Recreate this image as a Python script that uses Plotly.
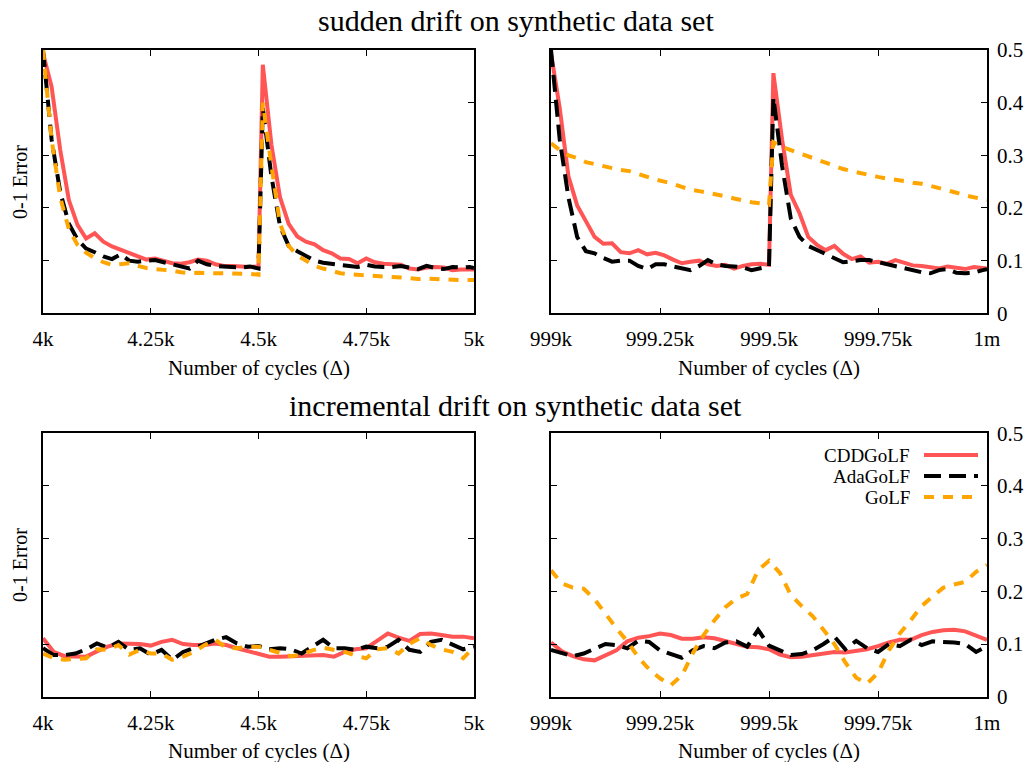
import plotly.graph_objects as go

# ---------------- data ----------------
series_names = ["CDDGoLF", "AdaGoLF", "GoLF"]
x_tick_left = [4000, 4250, 4500, 4750, 5000]
x_ticktext_left = ["4k", "4.25k", "4.5k", "4.75k", "5k"]
x_tick_right = [999000, 999250, 999500, 999750, 1000000]
x_ticktext_right = ["999k", "999.25k", "999.5k", "999.75k", "1m"]
y_ticks = [0, 0.1, 0.2, 0.3, 0.4, 0.5]
y_ticktext = ["0", "0.1", "0.2", "0.3", "0.4", "0.5"]

# sudden drift, cycles 4k-5k
sud_l_x = [4000, 4020, 4040, 4060, 4080, 4100, 4120, 4140, 4160, 4180, 4200, 4220, 4240,
           4260, 4280, 4300, 4320, 4340, 4360, 4380, 4400, 4420, 4440, 4460, 4480, 4500,
           4510, 4530, 4550, 4570, 4590, 4610, 4630, 4650, 4670, 4690, 4710, 4730, 4750,
           4770, 4790, 4810, 4830, 4850, 4870, 4890, 4910, 4930, 4950, 4970, 4990, 5000]
sud_l_cdd = [0.494, 0.43, 0.31, 0.215, 0.168, 0.142, 0.152, 0.136, 0.127, 0.121, 0.116, 0.108, 0.102,
             0.104, 0.1, 0.095, 0.094, 0.097, 0.102, 0.1, 0.093, 0.09, 0.09, 0.089, 0.088, 0.089,
             0.472, 0.32, 0.22, 0.17, 0.146, 0.136, 0.131, 0.12, 0.114, 0.104, 0.103, 0.095, 0.104,
             0.097, 0.094, 0.093, 0.092, 0.085, 0.083, 0.087, 0.088, 0.087, 0.082, 0.083, 0.084, 0.083]
sud_l_ada = [0.5, 0.33, 0.23, 0.17, 0.14, 0.123, 0.116, 0.108, 0.103, 0.112, 0.1, 0.098, 0.1,
             0.101, 0.097, 0.093, 0.089, 0.085, 0.1, 0.093, 0.09, 0.089, 0.088, 0.087, 0.089, 0.085,
             0.39, 0.26, 0.165, 0.128, 0.118, 0.108, 0.1, 0.096, 0.094, 0.092, 0.089, 0.088, 0.092,
             0.089, 0.088, 0.088, 0.09, 0.087, 0.084, 0.09, 0.086, 0.084, 0.088, 0.087, 0.088, 0.086]
sud_l_golf = [0.5, 0.33, 0.22, 0.16, 0.13, 0.115, 0.105, 0.097, 0.092, 0.093, 0.095, 0.09, 0.086,
              0.084, 0.083, 0.081, 0.078, 0.076, 0.077, 0.076, 0.076, 0.076, 0.076, 0.076, 0.075, 0.073,
              0.40, 0.28, 0.17, 0.128, 0.11, 0.1, 0.09, 0.085, 0.08, 0.076, 0.074, 0.073, 0.072,
              0.071, 0.07, 0.07, 0.068, 0.067, 0.065, 0.066, 0.065, 0.064, 0.064, 0.063, 0.063, 0.063]

# sudden drift, cycles 999k-1m
sud_r_x = [999000, 999020, 999040, 999060, 999080, 999100, 999120, 999140, 999160, 999180,
           999200, 999220, 999240, 999260, 999280, 999300, 999320, 999340, 999360, 999380,
           999400, 999420, 999440, 999460, 999480, 999500, 999510, 999530, 999550, 999570,
           999590, 999610, 999630, 999650, 999670, 999690, 999710, 999730, 999750, 999770,
           999790, 999810, 999830, 999850, 999870, 999890, 999910, 999930, 999950, 999970,
           999990, 1000000]
sud_r_cdd = [0.494, 0.39, 0.26, 0.205, 0.175, 0.145, 0.132, 0.133, 0.116, 0.114,
             0.12, 0.112, 0.115, 0.11, 0.102, 0.095, 0.098, 0.1, 0.093, 0.09,
             0.092, 0.085, 0.09, 0.093, 0.094, 0.092, 0.456, 0.33, 0.225, 0.19,
             0.145, 0.13, 0.12, 0.128, 0.113, 0.103, 0.108, 0.096, 0.098, 0.094,
             0.101, 0.095, 0.091, 0.09, 0.088, 0.085, 0.089, 0.087, 0.084, 0.088,
             0.087, 0.085]
sud_r_ada = [0.5, 0.33, 0.22, 0.145, 0.118, 0.114, 0.105, 0.098, 0.1, 0.1,
             0.09, 0.084, 0.093, 0.093, 0.089, 0.086, 0.082, 0.09, 0.101, 0.093,
             0.09, 0.089, 0.087, 0.082, 0.086, 0.089, 0.41, 0.28, 0.18, 0.145,
             0.128, 0.12, 0.112, 0.104, 0.097, 0.099, 0.101, 0.101, 0.097, 0.093,
             0.089, 0.085, 0.081, 0.078, 0.076, 0.082, 0.084, 0.077, 0.076, 0.077,
             0.082, 0.084]
sud_r_golf = [0.323, 0.31, 0.3, 0.295, 0.287, 0.283, 0.279, 0.275, 0.272, 0.27,
              0.264, 0.258, 0.254, 0.25, 0.246, 0.24, 0.235, 0.232, 0.229, 0.226,
              0.222, 0.218, 0.214, 0.211, 0.209, 0.206, 0.325, 0.316, 0.31, 0.304,
              0.297, 0.29, 0.284, 0.278, 0.274, 0.27, 0.266, 0.262, 0.259, 0.256,
              0.254, 0.251, 0.248, 0.246, 0.242, 0.238, 0.234, 0.229, 0.224, 0.22,
              0.216, 0.215]

# incremental drift, cycles 4k-5k
inc_l_x = [4000, 4025, 4050, 4075, 4100, 4125, 4150, 4175, 4200, 4225, 4250, 4275, 4300, 4325,
           4350, 4375, 4400, 4425, 4450, 4475, 4500, 4525, 4550, 4575, 4600, 4625, 4650, 4675,
           4700, 4725, 4750, 4775, 4800, 4825, 4850, 4875, 4900, 4925, 4950, 4975, 5000]
inc_l_cdd = [0.111, 0.085, 0.077, 0.076, 0.076, 0.086, 0.095, 0.101, 0.101, 0.1, 0.097, 0.104, 0.108, 0.1,
             0.098, 0.098, 0.101, 0.098, 0.092, 0.087, 0.082, 0.076, 0.076, 0.077, 0.078, 0.079, 0.079, 0.076,
             0.085, 0.09, 0.092, 0.106, 0.12, 0.112, 0.106, 0.119, 0.12, 0.117, 0.114, 0.114, 0.111]
inc_l_ada = [0.092, 0.079, 0.079, 0.082, 0.09, 0.101, 0.093, 0.104, 0.089, 0.092, 0.08, 0.089, 0.07, 0.085,
             0.092, 0.101, 0.108, 0.113, 0.101, 0.095, 0.096, 0.09, 0.092, 0.09, 0.082, 0.095, 0.108, 0.092,
             0.092, 0.089, 0.095, 0.092, 0.095, 0.108, 0.089, 0.085, 0.104, 0.108, 0.098, 0.09, 0.095]
inc_l_golf = [0.082, 0.073, 0.07, 0.072, 0.073, 0.09, 0.089, 0.098, 0.08, 0.089, 0.082, 0.082, 0.07, 0.076,
              0.085, 0.098, 0.108, 0.093, 0.092, 0.095, 0.095, 0.089, 0.083, 0.077, 0.08, 0.088, 0.093, 0.089,
              0.085, 0.078, 0.073, 0.09, 0.092, 0.082, 0.1, 0.111, 0.098, 0.09, 0.085, 0.073, 0.095]

# incremental drift, cycles 999k-1m
inc_r_x = [999000, 999025, 999050, 999075, 999100, 999125, 999150, 999175, 999200, 999225,
           999250, 999275, 999300, 999325, 999350, 999375, 999400, 999425, 999450, 999475,
           999500, 999525, 999550, 999575, 999600, 999625, 999650, 999675, 999700, 999725,
           999750, 999775, 999800, 999825, 999850, 999875, 999900, 999925, 999950, 999975,
           1000000]
inc_r_cdd = [0.103, 0.086, 0.077, 0.071, 0.069, 0.079, 0.088, 0.105, 0.112, 0.115,
             0.12, 0.117, 0.11, 0.11, 0.113, 0.111, 0.106, 0.1, 0.095, 0.094,
             0.09, 0.08, 0.075, 0.076, 0.079, 0.083, 0.085, 0.084, 0.087, 0.09,
             0.096, 0.103, 0.108, 0.108, 0.117, 0.123, 0.126, 0.127, 0.124, 0.115,
             0.108]
inc_r_ada = [0.089, 0.083, 0.077, 0.082, 0.09, 0.1, 0.098, 0.092, 0.106, 0.104,
             0.088, 0.08, 0.074, 0.088, 0.096, 0.092, 0.103, 0.105, 0.095, 0.127,
             0.097, 0.088, 0.079, 0.081, 0.088, 0.1, 0.114, 0.09, 0.106, 0.092,
             0.085, 0.1, 0.096, 0.108, 0.098, 0.105, 0.104, 0.103, 0.1, 0.085,
             0.096]
inc_r_golf = [0.24, 0.215, 0.207, 0.205, 0.185, 0.157, 0.13, 0.105, 0.075, 0.052,
              0.035, 0.022, 0.04, 0.082, 0.117, 0.145, 0.17, 0.186, 0.195, 0.24,
              0.258, 0.235, 0.193, 0.172, 0.153, 0.127, 0.1, 0.065, 0.036, 0.025,
              0.045, 0.088, 0.12, 0.145, 0.172, 0.19, 0.207, 0.213, 0.218, 0.237,
              0.25]

# ---------------- styling ----------------
FONT = "Liberation Serif, serif"
W, H = 1031, 762
colors = ["#ff5555", "#000000", "#ffa500"]
dashes = ["solid", "17px,8px", "10px,9px"]
widths = [4, 4, 4]

def px_x(p):
    return p / W

def px_y(p):
    return 1 - p / H

dom_x_left = [px_x(43), px_x(474)]
dom_x_right = [px_x(551), px_x(987)]
dom_y_top = [px_y(313.3), px_y(50)]
dom_y_bot = [px_y(696.7), px_y(433.3)]

panels = [
    ("x", "y", sud_l_x, [sud_l_cdd, sud_l_ada, sud_l_golf], dom_x_left, dom_y_top, "left"),
    ("x2", "y2", sud_r_x, [sud_r_cdd, sud_r_ada, sud_r_golf], dom_x_right, dom_y_top, "right"),
    ("x3", "y3", inc_l_x, [inc_l_cdd, inc_l_ada, inc_l_golf], dom_x_left, dom_y_bot, "left"),
    ("x4", "y4", inc_r_x, [inc_r_cdd, inc_r_ada, inc_r_golf], dom_x_right, dom_y_bot, "right"),
]

fig = go.Figure()
layout = dict(
    width=W, height=H, autosize=False,
    margin=dict(l=0, r=0, t=0, b=0, pad=0, autoexpand=False),
    paper_bgcolor="white", plot_bgcolor="white",
    showlegend=False,
    font=dict(family=FONT, size=21, color="black"),
)

for i, (xa, ya, xs, ys_list, dx, dy, side) in enumerate(panels):
    for k, ys in enumerate(ys_list):
        fig.add_trace(go.Scatter(
            x=xs, y=ys, xaxis=xa, yaxis=ya, mode="lines", name=series_names[k],
            line=dict(color=colors[k], width=widths[k], dash=dashes[k]),
        ))
    suffix = "" if i == 0 else str(i + 1)
    left = side == "left"
    layout["xaxis" + suffix] = dict(
        domain=dx, anchor=ya, automargin=False,
        range=[xs[0], xs[-1]],
        tickvals=x_tick_left if left else x_tick_right,
        ticktext=x_ticktext_left if left else x_ticktext_right,
        ticks="inside", ticklen=6, tickwidth=1.3, tickcolor="black",
        showline=True, linecolor="black", linewidth=1.6, mirror="ticks",
        showgrid=False, zeroline=False,
        tickfont=dict(family=FONT, size=21, color="black"), ticklabelstandoff=6,
    )
    layout["yaxis" + suffix] = dict(
        domain=dy, anchor=xa, automargin=False,
        range=[0, 0.5],
        tickvals=y_ticks, ticktext=y_ticktext,
        showticklabels=not left,
        side="left" if left else "right",
        ticks="inside", ticklen=6, tickwidth=1.3, tickcolor="black",
        showline=True, linecolor="black", linewidth=1.6, mirror="ticks",
        showgrid=False, zeroline=False,
        tickfont=dict(family=FONT, size=21, color="black"), ticklabelstandoff=4,
    )

fig.update_layout(**layout)

annotations = [
    dict(text="sudden drift on synthetic data set", x=0.5, y=px_y(20), size=30),
    dict(text="incremental drift on synthetic data set", x=0.5, y=px_y(405), size=30),
    dict(text="Number of cycles (Δ)", x=px_x(258.5), y=px_y(368), size=21),
    dict(text="Number of cycles (Δ)", x=px_x(769), y=px_y(368), size=21),
    dict(text="Number of cycles (Δ)", x=px_x(258.5), y=px_y(751), size=21),
    dict(text="Number of cycles (Δ)", x=px_x(769), y=px_y(751), size=21),
]
for a in annotations:
    fig.add_annotation(text=a["text"], x=a["x"], y=a["y"], xref="paper", yref="paper",
                       showarrow=False, xanchor="center", yanchor="middle",
                       font=dict(family=FONT, size=a["size"], color="black"))
for yc in (182, 565):
    fig.add_annotation(text="0-1 Error", x=px_x(20), y=px_y(yc), xref="paper", yref="paper",
                       showarrow=False, textangle=-90, xanchor="center", yanchor="middle",
                       font=dict(family=FONT, size=20, color="black"))

# legend (gnuplot style: right-aligned label, sample to the right)
legend_rows = [455, 476, 497]
for k, name in enumerate(series_names):
    fig.add_annotation(text=name, x=px_x(911), y=px_y(legend_rows[k]), xref="paper", yref="paper",
                       showarrow=False, xanchor="right", yanchor="middle",
                       font=dict(family=FONT, size=19, color="black"),
                       borderpad=0)
    fig.add_shape(type="line", xref="paper", yref="paper",
                  x0=px_x(924), x1=px_x(978), y0=px_y(legend_rows[k]), y1=px_y(legend_rows[k]),
                  line=dict(color=colors[k], width=widths[k], dash=dashes[k]))

fig.write_html(
    "out.html",
    config={"responsive": False, "displayModeBar": False},
    post_script="document.body.style.margin='0px';document.body.style.overflow='hidden';",
)
